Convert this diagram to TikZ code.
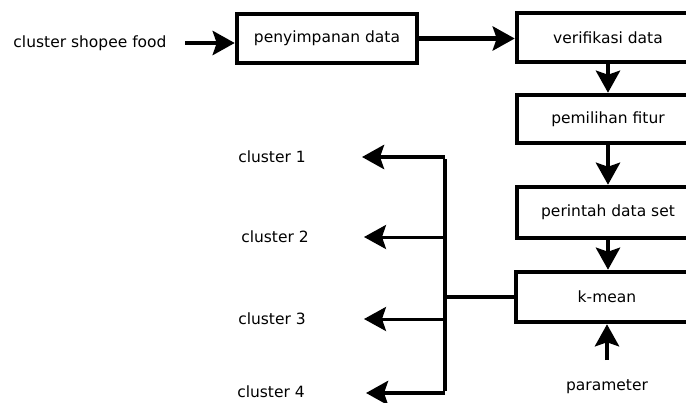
\documentclass[tikz,border=0pt]{standalone}
\usepackage{fontspec}
\setmainfont{DejaVu Sans}
\usetikzlibrary{arrows.meta,positioning}

\tikzset{
    prosesbox/.style={draw, line width=4.5pt, minimum width=182pt,
        minimum height=49pt, inner sep=0pt},
    alur/.style={line width=4.5pt, -{Stealth[length=22pt,width=24pt,inset=4pt]}},
    alurtipis/.style={line width=3pt, -{Stealth[length=22pt,width=24pt,inset=4pt]}},
    every node/.style={font=\fontsize{15.5}{18}\selectfont}
}

\begin{document}
\begin{tikzpicture}[x=1pt, y=-1pt]
            \useasboundingbox (0, 0) rectangle (686, 402);
            \clip (0, 0) rectangle (686, 402);
            % input and storage
            \node (masukan) at (90, 43) {cluster shopee food};
            \node[prosesbox, minimum width=180pt] (simpan) at (327, 38.5) {penyimpanan data};
            % processing chain
            \node[prosesbox] (verif) at (608, 37.5) {verifikasi data};
            \node[prosesbox, minimum height=48pt] (fitur) at (608, 119) {pemilihan fitur};
            \node[prosesbox, minimum height=51pt] (dataset) at (608, 212.5) {perintah data set};
            \node[prosesbox, minimum height=50pt] (kmean) at (607, 297) {k-mean};
            \node (param) at (607, 387) {parameter};
            \coordinate (paramekor) at (607, 360);
            % outputs
            \node (klaster1) at (272, 157) {cluster 1};
            \node (klaster2) at (275, 237) {cluster 2};
            \node (klaster3) at (272, 319) {cluster 3};
            \node (klaster4) at (271, 392) {cluster 4};
            \coordinate (ujung1) at (362, 157);
            \coordinate (ujung2) at (364, 237);
            \coordinate (ujung3) at (364, 319);
            \coordinate (ujung4) at (366, 393);
            \coordinate (bus) at (445, 296);
            % arrows
            \draw[alur] ([xshift=15pt]masukan.east) -- (masukan.east -| simpan.west);
            \draw[alur] (simpan.east) -- (simpan.east -| verif.west);
            \draw[alur] (verif) -- (fitur);
            \draw[alur] (fitur) -- (dataset);
            \draw[alur] (dataset.south) -- (dataset.south |- kmean.north);
            \draw[alur] (paramekor) -- (kmean.south);
            \draw[line width=4pt] (kmean.west) -- (kmean.west -| bus);
            \draw[line width=4.5pt] ([yshift=-2.25pt]bus |- ujung1) -- ([yshift=2.25pt]bus |- ujung4);
            \draw[alur] (bus |- ujung1) -- (ujung1);
            \draw[alurtipis] (bus |- ujung2) -- (ujung2);
            \draw[alurtipis] (bus |- ujung3) -- (ujung3);
            \draw[alur] (bus |- ujung4) -- (ujung4);
\end{tikzpicture}
\end{document}
